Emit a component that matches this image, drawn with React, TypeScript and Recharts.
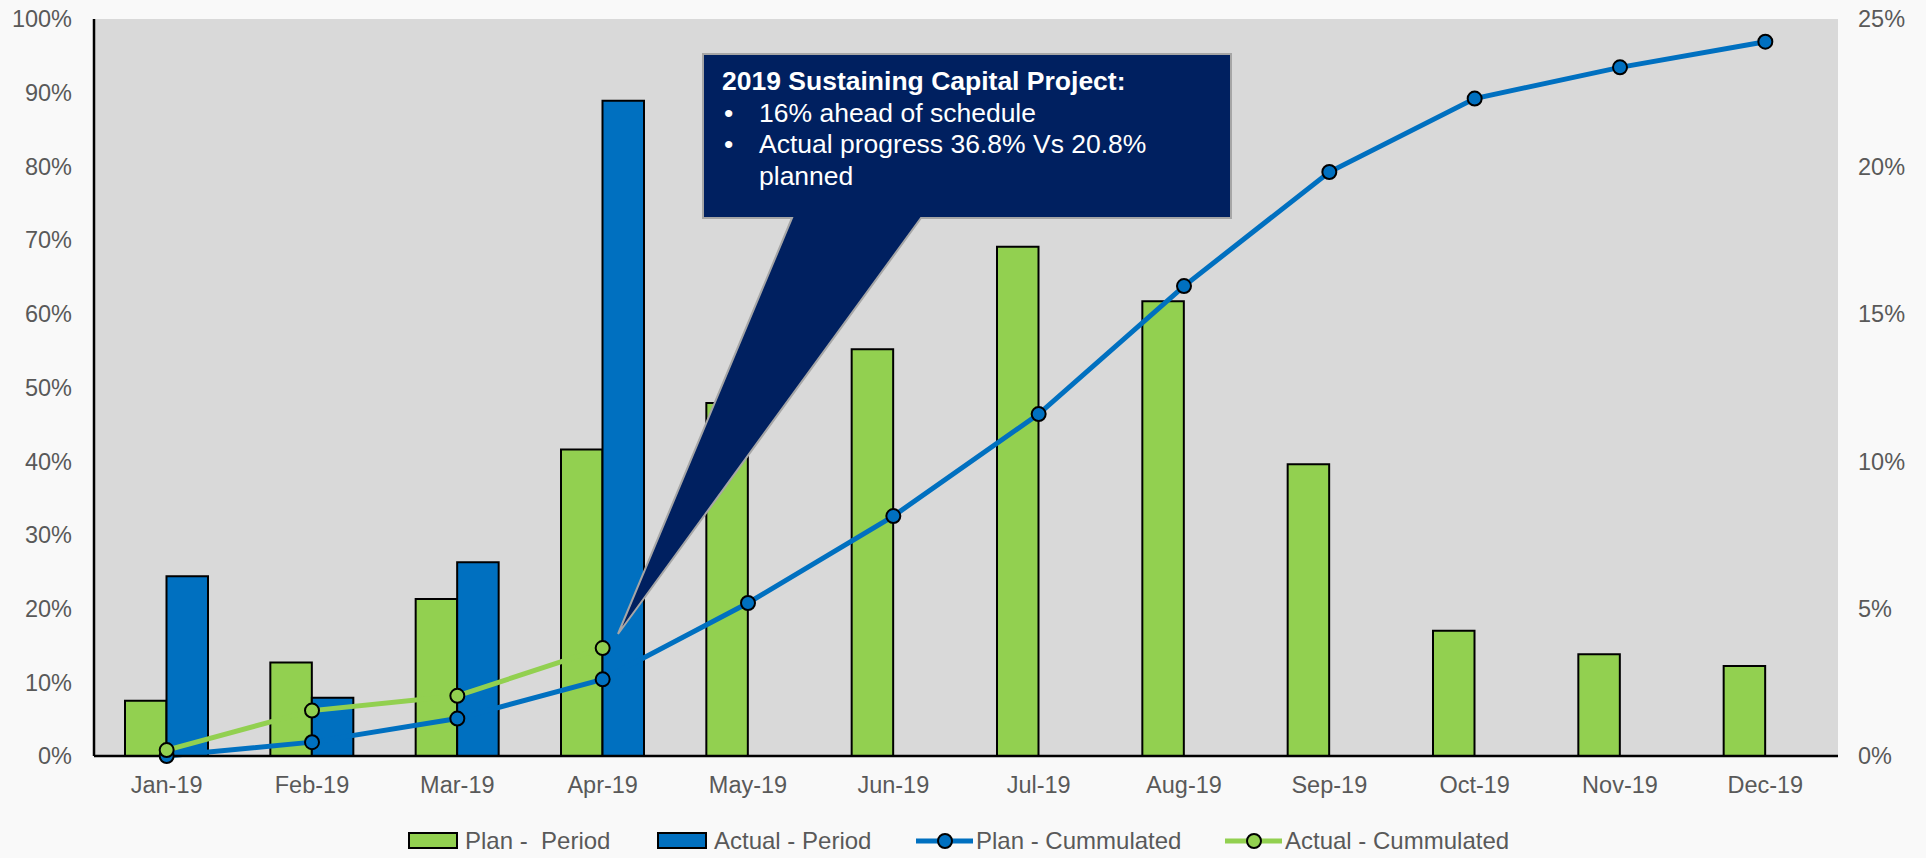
import { Bar, CartesianGrid, ComposedChart, Line, XAxis, YAxis } from "recharts";

const months = ["Jan-19", "Feb-19", "Mar-19", "Apr-19", "May-19", "Jun-19", "Jul-19", "Aug-19", "Sep-19", "Oct-19", "Nov-19", "Dec-19"];
// period values read on the left axis (%)
const planPeriod = [7.5, 12.7, 21.3, 41.6, 47.9, 55.2, 69.1, 61.7, 39.6, 17.0, 13.8, 12.2];
const actualPeriod = [24.4, 7.9, 26.3, 88.9, null, null, null, null, null, null, null, null];
// cumulated values read on the right axis (%)
const planCum = [0, 0.47, 1.27, 2.6, 5.19, 8.14, 11.6, 15.94, 19.81, 22.3, 23.36, 24.23];
const actualCum = [0.2, 1.54, 2.04, 3.66, null, null, null, null, null, null, null, null];
const leftTicks = [0, 10, 20, 30, 40, 50, 60, 70, 80, 90, 100];
const rightTicks = [0, 5, 10, 15, 20, 25];

const GREEN = "#92D050";
const BLUE = "#0070C0";
const FONT = "'Liberation Sans', Arial, sans-serif";

const data = months.map((m, i) => ({
  month: m,
  planPeriod: planPeriod[i],
  actualPeriod: actualPeriod[i],
  planCum: planCum[i],
  actualCum: actualCum[i],
}));

const tickStyle = { fill: "#595959", fontSize: 23.5, fontFamily: FONT };
const pct = (v: number) => `${v}%`;

function LegendItem({ left, kind, color, label }: { left: number; kind: "bar" | "line"; color: string; label: string }) {
  return (
    <div style={{ position: "absolute", left, top: 828, display: "flex", alignItems: "center", whiteSpace: "pre" }}>
      <svg width={58} height={24}>
        {kind === "bar" ? (
          <rect x={1} y={4} width={48} height={15} fill={color} stroke="#000" strokeWidth={2} />
        ) : (
          <>
            <line x1={0} y1={12} x2={57} y2={12} stroke={color} strokeWidth={5} />
            <circle cx={29} cy={12} r={7} fill={color} stroke="#000" strokeWidth={2} />
          </>
        )}
      </svg>
      <span style={{ marginLeft: kind === "bar" ? -1 : 2, fontSize: 24, lineHeight: "26px", color: "#595959", fontFamily: FONT }}>{label}</span>
    </div>
  );
}

function Callout() {
  return (
    <svg width={1926} height={858} style={{ position: "absolute", left: 0, top: 0, pointerEvents: "none" }}>
      <path
        d="M703,54 H1231 V218 H921 L618,634 L792,218 H703 Z"
        fill="#002060"
        stroke="#A6A6A6"
        strokeWidth={2}
      />
      <g fill="#fff" fontFamily={FONT} fontSize={26.5}>
        <text x={722} y={90} fontWeight="bold">2019 Sustaining Capital Project:</text>
        <text x={724} y={122}>•</text>
        <text x={759} y={122}>16% ahead of schedule</text>
        <text x={724} y={153}>•</text>
        <text x={759} y={153}>Actual progress 36.8% Vs 20.8%</text>
        <text x={759} y={185}>planned</text>
      </g>
    </svg>
  );
}

export default function App() {
  return (
    <div style={{ position: "absolute", left: 0, top: 0, width: 1926, height: 858, background: "#F9F9F9", overflow: "hidden", fontFamily: FONT }}>
      <ComposedChart
        width={1926}
        height={858}
        data={data}
        margin={{ top: 19, right: 0, bottom: 0, left: 0 }}
        barGap={0}
        barSize={41.5}
      >
        <CartesianGrid fill="#D9D9D9" horizontal={false} vertical={false} yAxisId="left" />
        <XAxis
          dataKey="month"
          height={102}
          axisLine={{ stroke: "#000", strokeWidth: 2.5 }}
          tickLine={false}
          tickSize={0}
          tickMargin={20}
          tick={tickStyle}
          interval={0}
        />
        <YAxis
          yAxisId="left"
          width={94}
          domain={[0, 100]}
          ticks={leftTicks}
          tickFormatter={pct}
          axisLine={{ stroke: "#000", strokeWidth: 2.5 }}
          tickLine={false}
          tickSize={0}
          tickMargin={22}
          tick={tickStyle}
        />
        <YAxis
          yAxisId="right"
          orientation="right"
          width={88}
          domain={[0, 25]}
          ticks={rightTicks}
          tickFormatter={pct}
          axisLine={false}
          tickLine={false}
          tickSize={0}
          tickMargin={20}
          tick={{ ...tickStyle, textAnchor: "start" }}
        />
        <Line yAxisId="right" dataKey="planCum" stroke={BLUE} strokeWidth={5} dot={false} activeDot={false} isAnimationActive={false} />
        <Line yAxisId="right" dataKey="actualCum" stroke={GREEN} strokeWidth={5} dot={false} activeDot={false} isAnimationActive={false} />
        <Bar yAxisId="left" dataKey="planPeriod" fill={GREEN} stroke="#000" strokeWidth={2} isAnimationActive={false} />
        <Bar yAxisId="left" dataKey="actualPeriod" fill={BLUE} stroke="#000" strokeWidth={2} isAnimationActive={false} />
        <Line
          yAxisId="right"
          dataKey="planCum"
          stroke="none"
          dot={{ r: 7, fill: BLUE, stroke: "#000", strokeWidth: 2 }}
          activeDot={false}
          isAnimationActive={false}
          legendType="none"
        />
        <Line
          yAxisId="right"
          dataKey="actualCum"
          stroke="none"
          dot={{ r: 7, fill: GREEN, stroke: "#000", strokeWidth: 2 }}
          activeDot={false}
          isAnimationActive={false}
          legendType="none"
        />
      </ComposedChart>
      <Callout />
      <LegendItem left={408} kind="bar" color={GREEN} label="Plan -  Period" />
      <LegendItem left={657} kind="bar" color={BLUE} label="Actual - Period" />
      <LegendItem left={916} kind="line" color={BLUE} label="Plan - Cummulated" />
      <LegendItem left={1225} kind="line" color={GREEN} label="Actual - Cummulated" />
    </div>
  );
}
